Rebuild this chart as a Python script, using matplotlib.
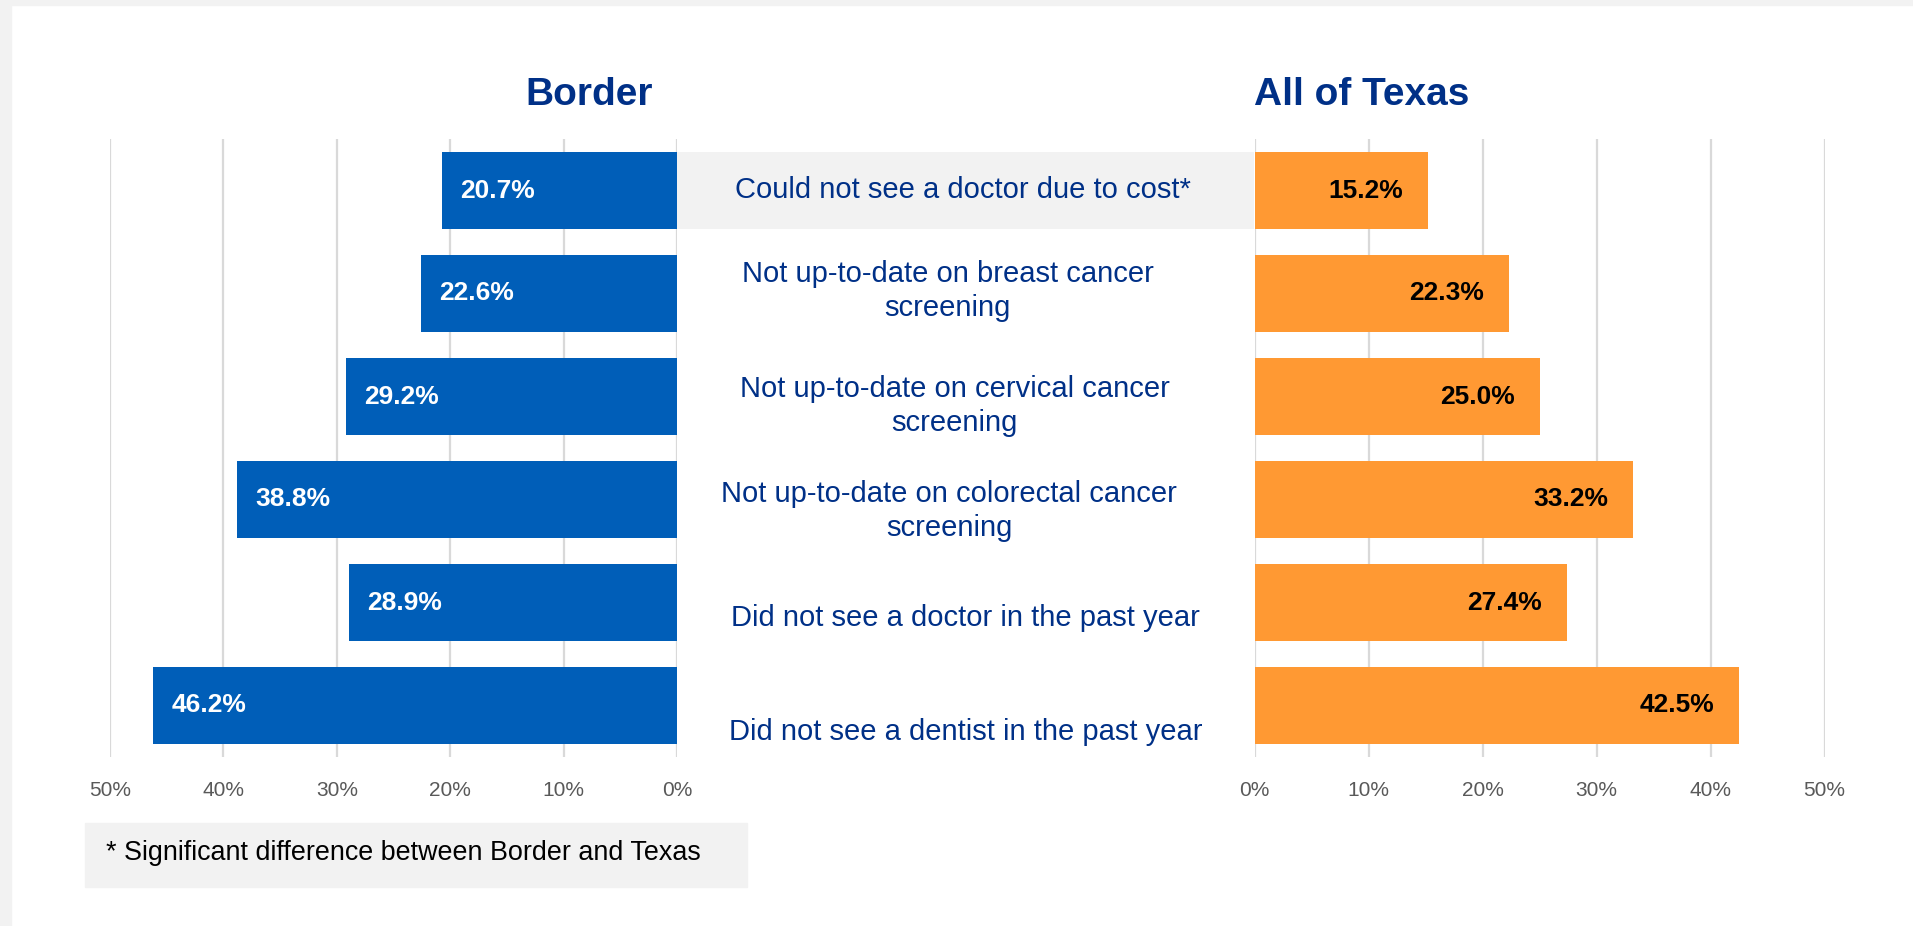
import matplotlib.pyplot as plt
from matplotlib.patches import Rectangle

# data
categories = [
    "Could not see a doctor due to cost*",
    "Not up-to-date on breast cancer\nscreening",
    "Not up-to-date on cervical cancer\nscreening",
    "Not up-to-date on colorectal cancer\nscreening",
    "Did not see a doctor in the past year",
    "Did not see a dentist in the past year",
]
border = [20.7, 22.6, 29.2, 38.8, 28.9, 46.2]
texas = [15.2, 22.3, 25.0, 33.2, 27.4, 42.5]
ticks = [0, 10, 20, 30, 40, 50]
footnote = "* Significant difference between Border and Texas"

BLUE = "#005EB8"
ORANGE = "#FF9933"
NAVY = "#003087"
GRID = "#D9D9D9"
TICK = "#595959"
PANEL = "#F2F2F2"
FONT = "Liberation Sans"

# small nudges (points) so the category labels sit like the Excel original
label_dx = [-2, -13, -8, -12, 0, 0]
label_dy = [0, 1.5, -7, -8, -11, -19]

W, H = 1913, 926
fig = plt.figure(figsize=(W / 100, H / 100), dpi=100, facecolor="white")


def px(x0, y0, x1, y1):
    # pixel box (top-left origin) -> figure fraction rect
    return [x0 / W, 1 - y1 / H, (x1 - x0) / W, (y1 - y0) / H]


# grey frame strips of the original slide
fig.patches.append(Rectangle((0, 0), 11 / W, 1, transform=fig.transFigure, color=PANEL, zorder=0))
fig.patches.append(Rectangle((0, 1 - 5 / H), 1, 5 / H, transform=fig.transFigure, color=PANEL, zorder=0))

top, bottom = 139, 757
ax_l = fig.add_axes(px(110, top, 677, bottom))
ax_c = fig.add_axes(px(677, top, 1254.5, bottom))
ax_r = fig.add_axes(px(1254.5, top, 1824.5, bottom))

rows = list(range(len(categories)))
bar_h = 0.74

for ax in (ax_l, ax_r, ax_c):
    ax.set_ylim(len(categories) - 0.5, -0.5)
    ax.set_facecolor("none")
    for s in ax.spines.values():
        s.set_visible(False)
    ax.set_yticks([])

for ax in (ax_l, ax_r):
    ax.set_xticks(ticks)
    ax.set_xticklabels([f"{t}%" for t in ticks], fontsize=15, color=TICK, family=FONT)
    ax.tick_params(axis="x", length=0, pad=17)
    ax.grid(axis="x", color=GRID, lw=1.6)
    ax.set_axisbelow(True)

ax_l.set_xlim(50, 0)
ax_r.set_xlim(0, 50)

ax_l.barh(rows, border, height=bar_h, color=BLUE)
ax_r.barh(rows, texas, height=bar_h, color=ORANGE)

for r, v in zip(rows, border):
    ax_l.annotate(f"{v:.1f}%", (v, r), xytext=(13, 0), textcoords="offset points",
                  ha="left", va="center", fontsize=19, fontweight="bold", color="white", family=FONT)
for r, v in zip(rows, texas):
    ax_r.annotate(f"{v:.1f}%", (v, r), xytext=(-18, 0), textcoords="offset points",
                  ha="right", va="center", fontsize=19, fontweight="bold", color="black", family=FONT)

# centre column: category labels, significant rows get a grey band
ax_c.set_xlim(0, 1)
ax_c.set_xticks([])
for r, cat in zip(rows, categories):
    if "*" in cat:
        ax_c.barh(r, 1, height=bar_h, color=PANEL, zorder=0)
    ax_c.annotate(cat, (0.5, r), xytext=(label_dx[r], label_dy[r]), textcoords="offset points",
                  ha="center", va="center", multialignment="center",
                  fontsize=21, color=NAVY, family=FONT, linespacing=1.28)

fig.text(653 / W, 1 - 95 / H, "Border", ha="right", va="center",
         fontsize=28, fontweight="bold", color=NAVY, family=FONT)
fig.text(1254 / W, 1 - 95 / H, "All of Texas", ha="left", va="center",
         fontsize=28, fontweight="bold", color=NAVY, family=FONT)

# footnote box
fig.patches.append(Rectangle((85 / W, 1 - 887 / H), (747 - 85) / W, 64 / H,
                             transform=fig.transFigure, color=PANEL, zorder=0))
fig.text(106 / W, 1 - 853 / H, footnote, ha="left", va="center",
         fontsize=19.4, color="black", family=FONT)

fig.savefig("out.png", dpi=100, facecolor="white")
